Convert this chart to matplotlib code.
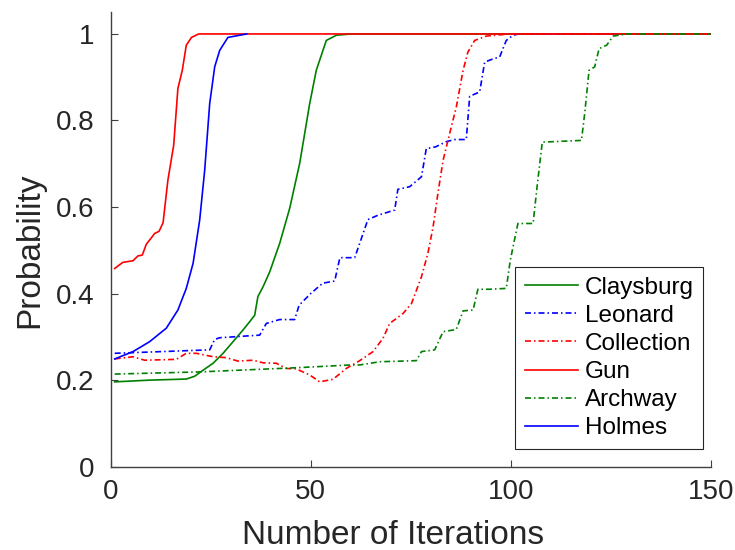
import matplotlib
matplotlib.use("Agg")
import matplotlib.pyplot as plt

plt.rcParams['font.family'] = ['Liberation Sans', 'DejaVu Sans']

# ---- data ----
claysburg_x = [1, 9.75, 18.9, 21, 23.1, 25.6, 28.1, 30.6, 33.1, 34.75, 36, 36.8, 38.1, 39.75,
               42.25, 44.75, 47.25, 49.75, 51.4, 53.9, 56.4, 60, 150]
claysburg_y = [0.196, 0.200, 0.2025, 0.209, 0.223, 0.239, 0.262, 0.289, 0.316, 0.335, 0.350,
               0.393, 0.416, 0.450, 0.516, 0.597, 0.701, 0.839, 0.916, 0.985, 0.997, 1.0, 1.0]

leonard_x = [1, 24.75, 26, 27.25, 37.25, 38.9, 42.25, 46, 47.1, 50, 53, 56, 57.3, 61, 62.25,
             64.3, 66.8, 71, 71.8, 74.75, 77.7, 78.9, 81.2, 83.9, 86, 88.9, 89.75, 92.25, 93.5,
             95.2, 97.25, 98.9, 100.6, 102, 150]
leonard_y = [0.262, 0.270, 0.294, 0.298, 0.304, 0.331, 0.340, 0.340, 0.373, 0.400, 0.424, 0.429,
             0.483, 0.483, 0.516, 0.571, 0.581, 0.593, 0.641, 0.647, 0.670, 0.735, 0.739, 0.751,
             0.756, 0.756, 0.856, 0.866, 0.935, 0.941, 0.947, 0.985, 0.997, 1.0, 1.0]

collection_x = [1, 5.6, 8.5, 16.4, 18.9, 21.4, 25.6, 28.9, 31.8, 35.6, 38.1, 41.4, 43.9, 46.4,
                49.75, 52.25, 55.6, 58.9, 62.25, 65.6, 68.1, 69.75, 73.1, 75.2, 77.7, 79.3, 80.6,
                81.8, 83.1, 84.75, 86.4, 88.1, 89.3, 91, 93.9, 97.25, 100, 150]
collection_y = [0.249, 0.254, 0.246, 0.248, 0.262, 0.262, 0.254, 0.252, 0.244, 0.246, 0.240,
                0.239, 0.227, 0.226, 0.212, 0.196, 0.202, 0.227, 0.245, 0.266, 0.297, 0.331,
                0.354, 0.377, 0.439, 0.493, 0.554, 0.631, 0.708, 0.770, 0.831, 0.916, 0.958,
                0.985, 0.995, 0.998, 1.0, 1.0]

gun_x = [1, 3, 5.6, 6.8, 7.9, 8.9, 9.75, 11, 12.1, 13.1, 14.3, 15.75, 16.8, 17.9, 18.9, 20.2,
         22, 150]
gun_y = [0.458, 0.472, 0.476, 0.487, 0.489, 0.514, 0.524, 0.539, 0.544, 0.564, 0.662, 0.743,
         0.874, 0.916, 0.974, 0.992, 1.0, 1.0]

archway_x = [1, 22.25, 47.25, 59.75, 62.25, 67.25, 76.4, 77.7, 81, 83.1, 86.4, 88.1, 90.6, 91.8,
             94.75, 98.9, 99.9, 101.8, 105.6, 106.6, 107.9, 117.7, 118.5, 119.6, 121, 122.1,
             124, 125.6, 128.9, 150]
archway_y = [0.214, 0.219, 0.229, 0.235, 0.235, 0.2425, 0.245, 0.266, 0.270, 0.312, 0.317,
             0.360, 0.362, 0.410, 0.410, 0.412, 0.477, 0.562, 0.562, 0.647, 0.750, 0.754,
             0.816, 0.916, 0.924, 0.966, 0.974, 0.995, 1.0, 1.0]

holmes_x = [1, 5.6, 9.75, 13.9, 16.8, 18.9, 20.6, 22.25, 23.5, 24.75, 26, 27.25, 29.3, 34]
holmes_y = [0.249, 0.266, 0.289, 0.320, 0.362, 0.412, 0.470, 0.570, 0.685, 0.839, 0.924,
            0.962, 0.992, 1.0]

x_ticks = [0, 50, 100, 150]
y_ticks = [0, 0.2, 0.4, 0.6, 0.8, 1.0]
y_ticklabels = ['0', '0.2', '0.4', '0.6', '0.8', '1']

# ---- figure ----
fig = plt.figure(figsize=(7.35, 5.5), dpi=100)
ax = fig.add_axes([0.1506, 0.1515, 0.8163, 0.8261])

green = (0, 0.5, 0)
dashdot = (0, (3.6, 1.8, 0.9, 1.8))
lw = 1.2

ax.plot(claysburg_x, claysburg_y, color=green, lw=lw, linestyle='-', label='Claysburg')
ax.plot(leonard_x, leonard_y, color='blue', lw=lw, linestyle=dashdot, label='Leonard')
ax.plot(collection_x, collection_y, color='red', lw=lw, linestyle=dashdot, label='Collection')
ax.plot(gun_x, gun_y, color='red', lw=lw, linestyle='-', label='Gun')
ax.plot(archway_x, archway_y, color=green, lw=lw, linestyle=dashdot, label='Archway')
ax.plot(holmes_x, holmes_y, color='blue', lw=lw, linestyle='-', label='Holmes')

ax.set_xlim(0, 150)
ax.set_ylim(0, 1.05)
ax.set_xticks(x_ticks)
ax.set_yticks(y_ticks)
ax.set_yticklabels(y_ticklabels)

axcol = '#404040'
for s in ['top', 'right']:
    ax.spines[s].set_visible(False)
for s in ['left', 'bottom']:
    ax.spines[s].set_color(axcol)
    ax.spines[s].set_linewidth(1.0)
ax.tick_params(direction='in', length=5, width=0.8, color=axcol,
               labelsize=20, labelcolor='#262626')
ax.tick_params(axis='x', pad=9)
ax.tick_params(axis='y', pad=12)

ax.set_xlabel('Number of Iterations', fontsize=24, color='#262626', labelpad=10.5)
ax.set_ylabel('Probability', fontsize=24, color='#262626', labelpad=7)
ax.xaxis.label.set_x(0.471)
ax.yaxis.label.set_y(0.477)

leg = ax.legend(loc='lower right', bbox_to_anchor=(0.9877, 0.039), borderaxespad=0,
                fontsize=17.5, frameon=True, fancybox=False, framealpha=1,
                edgecolor='#262626', handlelength=2.2, handletextpad=0.25,
                labelspacing=0.25, borderpad=0.4)
leg.get_frame().set_linewidth(0.8)

fig.savefig('out.png', dpi=100)
